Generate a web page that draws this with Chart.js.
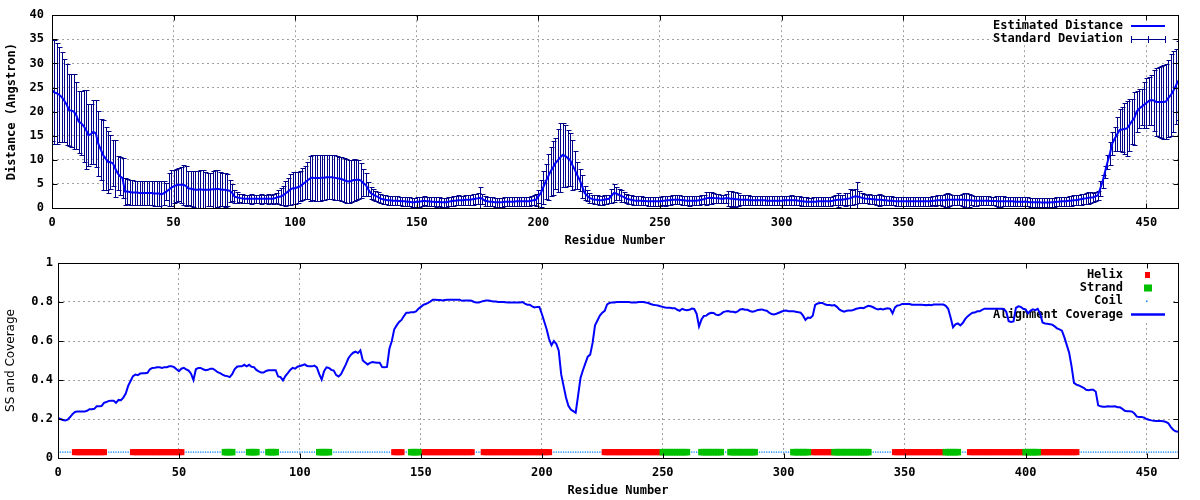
<!DOCTYPE html>
<html lang="en">
<head>
<meta charset="UTF-8">
<title>Estimated Distance and Alignment Coverage</title>
<script src="https://cdn.jsdelivr.net/npm/chart.js"></script>
<style>
    body { margin: 0; background: #ffffff; }
    .panel { position: absolute; left: 0; width: 1200px; height: 250px; }
    #top { top: 0; }
    #bottom { top: 250px; }
</style>
</head>
<body>
<div class="panel" id="top"><canvas id="distChart" width="1200" height="250"></canvas></div>
<div class="panel" id="bottom"><canvas id="covChart" width="1200" height="250"></canvas></div>

<script>
// tick labels
const xTicks = [0, 50, 100, 150, 200, 250, 300, 350, 400, 450];
const distTicks = [0, 5, 10, 15, 20, 25, 30, 35, 40];
const covTicks = [0, 0.2, 0.4, 0.6, 0.8, 1];

// estimated distance per residue (index = residue number)
const meanDistance = [
    24.4, 24.0, 23.8, 23.5, 23.0, 22.3, 21.5, 20.3, 20.2, 20.0,
    19.2, 17.9, 17.6, 17.0, 16.2, 15.1, 15.3, 15.8, 15.5, 13.4,
    12.2, 11.0, 10.3, 9.6, 9.5, 9.3, 8.2, 7.2, 6.6, 6.2,
    3.4, 3.4, 3.3, 3.2, 3.2, 3.2, 3.1, 3.1, 3.1, 3.1,
    3.1, 3.1, 3.0, 3.0, 3.0, 2.8, 3.1, 3.4, 3.8, 4.2,
    4.5, 4.7, 4.8, 4.8, 4.8, 4.6, 4.1, 4.0, 3.9, 3.8,
    3.8, 3.9, 3.8, 3.8, 3.8, 3.8, 3.9, 3.9, 4.0, 3.9,
    3.8, 3.8, 3.7, 3.6, 3.2, 2.4, 2.2, 2.1, 2.0, 1.9,
    1.9, 1.9, 1.9, 1.9, 1.9, 1.9, 1.9, 1.9, 1.9, 1.9,
    1.9, 1.9, 2.1, 2.3, 2.4, 2.6, 3.0, 3.4, 3.8, 4.1,
    4.1, 4.3, 4.5, 4.9, 5.3, 5.7, 6.1, 6.3, 6.2, 6.2,
    6.2, 6.3, 6.3, 6.4, 6.4, 6.4, 6.3, 6.2, 6.1, 6.0,
    5.8, 5.6, 5.5, 5.6, 5.8, 5.8, 5.9, 5.7, 5.2, 4.8,
    3.9, 3.1, 2.8, 2.5, 2.3, 2.0, 1.8, 1.7, 1.6, 1.6,
    1.5, 1.5, 1.5, 1.45, 1.4, 1.4, 1.3, 1.3, 1.2, 1.2,
    1.3, 1.3, 1.4, 1.5, 1.4, 1.4, 1.3, 1.3, 1.2, 1.3,
    1.2, 1.2, 1.2, 1.3, 1.4, 1.5, 1.5, 1.6, 1.6, 1.6,
    1.7, 1.7, 1.7, 1.8, 1.9, 2.0, 2.1, 1.9, 1.5, 1.4,
    1.3, 1.3, 1.2, 1.2, 1.2, 1.2, 1.3, 1.3, 1.3, 1.3,
    1.3, 1.4, 1.4, 1.4, 1.4, 1.4, 1.4, 1.5, 1.6, 1.7,
    2.4, 3.1, 4.3, 5.5, 6.5, 7.6, 8.4, 9.3, 9.9, 10.5,
    11.0, 10.8, 10.4, 10.0, 8.9, 7.9, 6.8, 5.8, 4.5, 3.1,
    2.6, 2.1, 1.9, 1.7, 1.7, 1.6, 1.6, 1.7, 1.8, 1.9,
    2.5, 3.1, 3.0, 2.75, 2.5, 2.3, 2.0, 1.8, 1.7, 1.6,
    1.5, 1.5, 1.5, 1.45, 1.45, 1.4, 1.4, 1.4, 1.4, 1.4,
    1.4, 1.5, 1.5, 1.6, 1.6, 1.7, 1.7, 1.7, 1.7, 1.6,
    1.6, 1.5, 1.5, 1.5, 1.5, 1.5, 1.6, 1.7, 1.8, 2.0,
    2.1, 2.1, 2.1, 2.0, 2.0, 1.9, 1.9, 2.0, 2.0, 1.9,
    1.9, 1.8, 1.8, 1.7, 1.7, 1.7, 1.7, 1.6, 1.6, 1.6,
    1.6, 1.6, 1.6, 1.6, 1.5, 1.5, 1.5, 1.5, 1.5, 1.5,
    1.5, 1.6, 1.6, 1.6, 1.6, 1.6, 1.6, 1.5, 1.4, 1.4,
    1.3, 1.3, 1.3, 1.3, 1.3, 1.4, 1.4, 1.4, 1.4, 1.4,
    1.4, 1.5, 1.6, 1.7, 1.7, 1.7, 1.8, 1.9, 2.0, 2.2,
    2.4, 2.4, 2.3, 2.1, 2.0, 1.9, 1.9, 1.8, 1.8, 1.7,
    1.7, 1.7, 1.6, 1.6, 1.5, 1.5, 1.45, 1.4, 1.4, 1.4,
    1.4, 1.4, 1.4, 1.4, 1.4, 1.4, 1.4, 1.4, 1.4, 1.4,
    1.4, 1.4, 1.5, 1.5, 1.6, 1.6, 1.6, 1.6, 1.7, 1.7,
    1.7, 1.7, 1.7, 1.7, 1.7, 1.7, 1.6, 1.6, 1.6, 1.5,
    1.5, 1.5, 1.5, 1.5, 1.5, 1.5, 1.45, 1.45, 1.45, 1.4,
    1.4, 1.4, 1.4, 1.4, 1.4, 1.4, 1.3, 1.3, 1.3, 1.3,
    1.3, 1.3, 1.2, 1.2, 1.2, 1.2, 1.2, 1.15, 1.15, 1.15,
    1.15, 1.2, 1.2, 1.3, 1.3, 1.4, 1.4, 1.4, 1.5, 1.5,
    1.6, 1.6, 1.7, 1.8, 1.9, 2.0, 2.1, 2.2, 2.2, 2.4,
    2.6, 4.0, 5.5, 7.5, 9.5, 11.3, 13.4, 14.4, 15.3, 16.2,
    16.3, 16.4, 16.5, 17.2, 18.0, 18.6, 20.0, 20.6, 21.0, 21.4,
    21.8, 22.2, 22.4, 22.3, 22.0, 22.0, 22.0, 22.0, 22.1, 22.8,
    23.4, 24.2, 25.2, 26.4
];

// standard deviation per residue
const stdDeviation = [
    10.6, 10.8, 10.5, 9.8, 9.3, 8.6, 8.4, 7.4, 7.5, 7.7,
    6.9, 6.4, 6.7, 7.4, 8.2, 6.4, 6.2, 6.7, 7.0, 6.7,
    6.3, 7.2, 6.5, 6.4, 5.6, 4.8, 5.9, 3.5, 3.9, 4.1,
    2.8, 2.6, 2.6, 2.6, 2.5, 2.5, 2.5, 2.5, 2.5, 2.5,
    2.5, 2.5, 2.6, 2.5, 2.5, 2.7, 2.4, 1.8, 3.4, 3.7,
    3.4, 3.4, 3.4, 3.8, 4.1, 4.2, 3.5, 3.6, 3.7, 3.8,
    3.8, 4.0, 4.1, 3.7, 3.4, 3.4, 3.8, 4.0, 3.8, 3.5,
    3.4, 3.5, 3.3, 2.3, 1.7, 1.4, 1.1, 0.9, 0.9, 0.9,
    0.9, 0.9, 1.0, 0.9, 0.9, 0.9, 1.0, 0.9, 0.9, 1.0,
    0.9, 1.0, 1.0, 1.4, 1.7, 2.0, 2.5, 2.8, 3.2, 3.3,
    3.3, 3.2, 3.1, 3.3, 3.4, 3.9, 4.6, 4.6, 4.7, 4.7,
    4.7, 4.6, 4.7, 4.6, 4.6, 4.6, 4.6, 4.5, 4.5, 4.5,
    4.6, 4.5, 4.5, 4.4, 4.3, 4.2, 4.1, 3.6, 2.8, 2.4,
    1.5, 1.3, 1.2, 1.1, 1.0, 0.9, 0.9, 0.9, 0.9, 0.9,
    0.9, 0.9, 0.9, 0.9, 0.9, 0.9, 0.9, 0.9, 0.9, 0.9,
    1.0, 1.0, 0.9, 0.9, 0.9, 0.9, 0.9, 0.9, 1.0, 0.9,
    0.9, 0.9, 0.9, 0.9, 0.9, 1.0, 0.9, 1.0, 0.9, 0.9,
    1.0, 1.0, 1.0, 1.1, 1.1, 1.2, 2.2, 1.1, 1.0, 0.9,
    0.9, 0.9, 0.9, 0.9, 0.9, 0.9, 0.9, 0.9, 0.9, 0.9,
    0.9, 0.9, 0.9, 0.9, 0.9, 0.9, 0.9, 0.9, 1.0, 1.2,
    1.4, 2.8, 3.4, 3.6, 4.8, 5.1, 5.6, 5.3, 6.5, 7.2,
    6.6, 6.4, 5.8, 5.5, 5.2, 4.0, 2.8, 2.2, 2.4, 1.5,
    1.2, 1.0, 0.9, 0.9, 0.9, 0.9, 0.9, 0.9, 0.9, 0.9,
    1.5, 1.8, 1.3, 1.1, 1.3, 1.1, 0.9, 0.9, 0.9, 0.9,
    0.9, 0.9, 0.9, 0.9, 0.9, 0.9, 0.9, 0.9, 0.9, 0.9,
    0.9, 0.9, 1.0, 0.9, 0.9, 0.9, 0.9, 0.9, 0.9, 0.9,
    0.9, 0.9, 1.0, 0.9, 0.9, 0.9, 0.9, 0.9, 1.0, 1.4,
    1.3, 1.2, 1.1, 0.9, 0.9, 0.9, 0.9, 1.0, 1.5, 1.7,
    1.5, 1.6, 1.4, 1.1, 1.1, 1.1, 1.0, 0.9, 0.9, 0.9,
    0.9, 0.9, 0.9, 0.9, 0.9, 0.9, 0.9, 0.9, 0.9, 0.9,
    0.9, 0.9, 0.9, 0.9, 1.0, 0.9, 0.9, 0.9, 0.9, 0.9,
    0.9, 0.8, 0.8, 0.9, 0.9, 0.9, 0.9, 0.9, 0.9, 0.9,
    0.9, 0.9, 1.0, 1.5, 1.0, 1.0, 1.4, 1.3, 1.9, 1.6,
    1.6, 2.9, 1.3, 1.1, 1.0, 0.9, 1.0, 1.0, 1.0, 1.0,
    1.2, 1.1, 0.9, 0.9, 0.9, 0.9, 0.9, 0.9, 0.9, 0.9,
    0.9, 0.9, 0.9, 0.9, 0.9, 0.9, 0.9, 0.9, 0.9, 0.9,
    0.9, 0.9, 0.9, 1.0, 1.0, 1.0, 1.2, 1.4, 1.5, 1.2,
    1.1, 1.0, 1.0, 1.1, 1.3, 1.5, 1.5, 1.3, 1.0, 1.0,
    1.0, 0.9, 0.9, 0.9, 0.9, 0.9, 0.9, 0.9, 1.0, 1.1,
    1.1, 1.0, 0.9, 0.9, 0.9, 0.9, 0.9, 0.9, 0.9, 0.9,
    0.9, 0.9, 0.9, 0.9, 0.9, 0.9, 0.9, 0.9, 0.9, 0.9,
    0.9, 0.9, 0.9, 0.9, 0.9, 0.9, 0.9, 0.9, 1.0, 1.0,
    1.0, 1.0, 1.0, 1.1, 1.1, 1.2, 1.2, 1.1, 1.0, 1.0,
    1.0, 1.5, 1.3, 1.2, 1.4, 2.4, 2.4, 2.5, 3.5, 4.4,
    4.6, 5.3, 5.8, 5.4, 4.7, 5.5, 4.3, 4.1, 3.7, 4.8,
    5.1, 4.9, 5.2, 6.4, 7.0, 7.3, 7.5, 7.7, 7.7, 8.0,
    8.5, 8.4, 7.8, 8.2
];

// alignment coverage per residue
const coverage = [
    0.205, 0.2, 0.195, 0.193, 0.197, 0.21, 0.225, 0.236, 0.238, 0.238,
    0.238, 0.238, 0.242, 0.25, 0.25, 0.252, 0.265, 0.265, 0.266, 0.283,
    0.287, 0.293, 0.294, 0.294, 0.283, 0.298, 0.296, 0.31, 0.33, 0.37,
    0.395, 0.42, 0.428, 0.425, 0.433, 0.435, 0.435, 0.437, 0.455, 0.462,
    0.463, 0.465, 0.465, 0.462, 0.466, 0.466, 0.47, 0.47, 0.466, 0.455,
    0.445, 0.458, 0.462, 0.455, 0.448, 0.432, 0.4, 0.455, 0.462, 0.462,
    0.455, 0.45, 0.452, 0.458, 0.458, 0.45, 0.44, 0.435, 0.428, 0.422,
    0.42, 0.415, 0.43, 0.455, 0.468, 0.47, 0.47, 0.478, 0.47, 0.478,
    0.468, 0.466, 0.452, 0.444, 0.438, 0.438, 0.446, 0.45, 0.45, 0.45,
    0.45, 0.418, 0.415, 0.398, 0.42, 0.435, 0.452, 0.462, 0.458, 0.468,
    0.472, 0.476, 0.48, 0.472, 0.47, 0.47, 0.474, 0.465, 0.43, 0.402,
    0.445, 0.465, 0.462, 0.452, 0.448, 0.425, 0.418, 0.43, 0.455, 0.48,
    0.51, 0.528, 0.54, 0.545, 0.538, 0.552, 0.5, 0.49, 0.48, 0.488,
    0.492, 0.49, 0.488, 0.488, 0.466, 0.465, 0.467, 0.56, 0.6, 0.66,
    0.68, 0.698, 0.708, 0.728, 0.745, 0.745, 0.748, 0.748, 0.752, 0.765,
    0.775, 0.785, 0.79, 0.795, 0.803, 0.812, 0.812, 0.81, 0.81, 0.808,
    0.81, 0.812, 0.812, 0.812, 0.812, 0.812, 0.812, 0.806, 0.808, 0.808,
    0.808, 0.806, 0.8, 0.797, 0.797, 0.802, 0.805, 0.808, 0.808, 0.805,
    0.803, 0.802, 0.8, 0.8, 0.8, 0.799, 0.798, 0.798, 0.797, 0.797,
    0.797, 0.797, 0.8, 0.792, 0.786, 0.786, 0.778, 0.772, 0.775, 0.775,
    0.74, 0.7, 0.66, 0.61, 0.578, 0.6, 0.585, 0.55, 0.43, 0.37,
    0.31, 0.268, 0.248, 0.24, 0.232, 0.32, 0.41, 0.45, 0.485, 0.52,
    0.53, 0.59, 0.68, 0.705, 0.73, 0.745, 0.755, 0.788, 0.795, 0.798,
    0.798, 0.8, 0.8, 0.8, 0.8, 0.8, 0.8, 0.798, 0.798, 0.797,
    0.8, 0.8, 0.8, 0.797, 0.795, 0.79, 0.786, 0.784, 0.782, 0.778,
    0.775, 0.772, 0.77, 0.77, 0.768, 0.768, 0.76, 0.755, 0.765, 0.76,
    0.758, 0.76, 0.766, 0.764, 0.74, 0.675, 0.71, 0.728, 0.73, 0.74,
    0.745, 0.744, 0.735, 0.732, 0.738, 0.748, 0.752, 0.754, 0.75, 0.75,
    0.747, 0.752, 0.762, 0.764, 0.76, 0.76, 0.754, 0.75, 0.752, 0.758,
    0.76, 0.762, 0.758, 0.755, 0.745, 0.738, 0.736, 0.74, 0.745, 0.75,
    0.755, 0.756, 0.753, 0.752, 0.752, 0.75, 0.748, 0.745, 0.73, 0.708,
    0.72, 0.718, 0.73, 0.785, 0.792, 0.795, 0.795, 0.788, 0.785, 0.785,
    0.782, 0.784, 0.775, 0.762, 0.755, 0.75, 0.755, 0.756, 0.756, 0.76,
    0.765, 0.768, 0.77, 0.768, 0.775, 0.78, 0.778, 0.773, 0.766, 0.762,
    0.765, 0.762, 0.765, 0.768, 0.765, 0.742, 0.772, 0.782, 0.784, 0.79,
    0.79, 0.79, 0.79, 0.786, 0.786, 0.786, 0.786, 0.786, 0.785, 0.784,
    0.786, 0.784, 0.787, 0.787, 0.787, 0.787, 0.787, 0.78, 0.765, 0.72,
    0.67, 0.685, 0.69, 0.68, 0.692, 0.712, 0.726, 0.736, 0.745, 0.746,
    0.752, 0.752, 0.76, 0.766, 0.766, 0.766, 0.766, 0.766, 0.766, 0.766,
    0.766, 0.764, 0.75, 0.702, 0.698, 0.7, 0.77, 0.778, 0.775, 0.765,
    0.762, 0.742, 0.755, 0.762, 0.758, 0.765, 0.74, 0.695, 0.69, 0.688,
    0.686, 0.684, 0.675, 0.665, 0.66, 0.653, 0.62, 0.58, 0.54, 0.47,
    0.385, 0.376, 0.372, 0.366, 0.36, 0.35, 0.348, 0.35, 0.35, 0.34,
    0.27, 0.265, 0.263, 0.263, 0.265, 0.264, 0.264, 0.265, 0.26, 0.26,
    0.252, 0.242, 0.24, 0.24, 0.238, 0.228, 0.212, 0.21, 0.21, 0.207,
    0.2, 0.196, 0.193, 0.191, 0.19, 0.19, 0.19, 0.188, 0.185, 0.178,
    0.16, 0.145, 0.137, 0.135
];

// secondary structure segments [first residue, last residue]
const helixSegments = [[7, 19], [31, 51], [139, 142], [151, 171], [176, 203], [226, 249], [312, 320], [346, 366], [377, 399], [406, 421]];
const strandSegments = [[69, 72], [79, 82], [87, 90], [108, 112], [146, 149], [250, 260], [266, 274], [278, 288], [304, 310], [321, 335], [367, 372], [400, 405]];

const lastResidue = 463;
const ssLevel = 0.03;

function inSegments(i, segs) {
    return segs.some(s => i >= s[0] && i <= s[1]);
}

const helixPts = [], strandPts = [], coilPts = [];
coverage.forEach((c, i) => {
    if (inSegments(i, helixSegments)) helixPts.push({ x: i, y: ssLevel });
    else if (inSegments(i, strandSegments)) strandPts.push({ x: i, y: ssLevel });
    else coilPts.push({ x: i, y: ssLevel });
});

Chart.defaults.font.family = "'DejaVu Sans Mono', monospace";
Chart.defaults.font.size = 12;
Chart.defaults.font.weight = 'bold';
Chart.defaults.color = '#000';

const monoFont = "bold 12px 'DejaVu Sans Mono', monospace";
const gridColor = '#a0a0a0';

// gnuplot style key, drawn before the data so curves pass over it
function keyPlugin(box, items) {
    return {
        id: 'key',
        beforeDatasetsDraw(chart) {
            const ctx = chart.ctx;
            ctx.save();
            ctx.fillStyle = '#fff';
            ctx.fillRect(box.x, box.y, box.w, box.h);
            ctx.font = monoFont;
            ctx.textAlign = 'right';
            ctx.textBaseline = 'middle';
            items.forEach(it => {
                ctx.fillStyle = '#000';
                ctx.fillText(it.label, box.textRight, it.y);
                it.sample(ctx, it.y);
            });
            ctx.restore();
        }
    };
}

// border and inward tick marks on all four sides
const framePlugin = {
    id: 'frame',
    afterDatasetsDraw(chart) {
        const { ctx, chartArea: a, scales: { x, y } } = chart;
        const l = Math.round(a.left) + 0.5, r = Math.round(a.right) + 0.5;
        const t = Math.round(a.top) + 0.5, b = Math.round(a.bottom) + 0.5;
        ctx.save();
        ctx.strokeStyle = '#000';
        ctx.lineWidth = 1;
        ctx.beginPath();
        x.ticks.forEach(tk => {
            const px = Math.round(x.getPixelForValue(tk.value)) + 0.5;
            ctx.moveTo(px, b); ctx.lineTo(px, b - 5);
            ctx.moveTo(px, t); ctx.lineTo(px, t + 5);
        });
        y.ticks.forEach(tk => {
            const py = Math.round(y.getPixelForValue(tk.value)) + 0.5;
            ctx.moveTo(l, py); ctx.lineTo(l + 5, py);
            ctx.moveTo(r, py); ctx.lineTo(r - 5, py);
        });
        ctx.stroke();
        ctx.strokeRect(l, t, r - l, b - t);
        ctx.restore();
    }
};

// standard deviation bars around the estimated distance
const errorBarPlugin = {
    id: 'errorBars',
    beforeDatasetsDraw(chart) {
        const { ctx, chartArea: a, scales: { x, y } } = chart;
        ctx.save();
        ctx.beginPath();
        ctx.rect(a.left, a.top, a.right - a.left, a.bottom - a.top);
        ctx.clip();
        ctx.strokeStyle = '#00008b';
        ctx.lineWidth = 1;
        ctx.beginPath();
        meanDistance.forEach((m, i) => {
            const px = Math.round(x.getPixelForValue(i)) + 0.5;
            const yHi = Math.round(y.getPixelForValue(m + stdDeviation[i])) + 0.5;
            const yLo = Math.round(y.getPixelForValue(m - stdDeviation[i])) + 0.5;
            ctx.moveTo(px, yLo); ctx.lineTo(px, yHi);
            ctx.moveTo(px - 2, yHi); ctx.lineTo(px + 3, yHi);
            ctx.moveTo(px - 2, yLo); ctx.lineTo(px + 3, yLo);
        });
        ctx.stroke();
        ctx.restore();
    }
};

function xAxis() {
    return {
        type: 'linear',
        min: 0,
        max: lastResidue,
        afterBuildTicks: s => { s.ticks = xTicks.map(v => ({ value: v })); },
        afterFit: s => { s.height = 42; },
        grid: { color: gridColor, drawTicks: false },
        border: { display: false, dash: [2, 3] },
        ticks: { padding: 8, maxRotation: 0, autoSkip: false, callback: v => String(v) },
        title: { display: true, text: 'Residue Number', padding: { top: 0, bottom: 2 } }
    };
}

function yAxis(tickList, max, width, pad, title, titleFont, titlePad) {
    return {
        type: 'linear',
        min: 0,
        max: max,
        afterBuildTicks: s => { s.ticks = tickList.map(v => ({ value: v })); },
        afterFit: s => { s.width = width; },
        grid: { color: gridColor, drawTicks: false },
        border: { display: false, dash: [2, 3] },
        ticks: { padding: pad, callback: v => String(v) },
        title: { display: true, text: title, font: titleFont, padding: { top: titlePad, bottom: 0 } }
    };
}

// top panel: estimated distance
new Chart(document.getElementById('distChart'), {
    type: 'line',
    data: {
        datasets: [{
            label: 'Estimated Distance',
            data: meanDistance.map((v, i) => ({ x: i, y: v })),
            borderColor: '#0000ff',
            borderWidth: 2,
            pointRadius: 0,
            tension: 0
        }]
    },
    options: {
        responsive: false,
        animation: false,
        devicePixelRatio: 1,
        events: [],
        layout: { padding: { top: 14, right: 22, left: 0, bottom: 0 } },
        plugins: { legend: { display: false }, tooltip: { enabled: false } },
        scales: {
            x: xAxis(),
            y: yAxis(distTicks, 40, 52, 8, 'Distance (Angstron)', { family: "'DejaVu Sans Mono', monospace", size: 12, weight: 'bold' }, 5)
        }
    },
    plugins: [
        keyPlugin({ x: 1000, y: 15, w: 170, h: 29, textRight: 1123 }, [
            { label: 'Estimated Distance', y: 26, sample: (ctx, y) => {
                ctx.strokeStyle = '#0000ff'; ctx.lineWidth = 2;
                ctx.beginPath(); ctx.moveTo(1131, y); ctx.lineTo(1165, y); ctx.stroke();
            } },
            { label: 'Standard Deviation', y: 39, sample: (ctx, y) => {
                ctx.strokeStyle = '#00008b'; ctx.lineWidth = 1;
                ctx.beginPath();
                ctx.moveTo(1131, y + 0.5); ctx.lineTo(1165, y + 0.5);
                [1131.5, 1148.5, 1165.5].forEach(px => { ctx.moveTo(px, y - 3); ctx.lineTo(px, y + 4); });
                ctx.stroke();
            } }
        ]),
        errorBarPlugin,
        framePlugin
    ]
});

// bottom panel: secondary structure and alignment coverage
new Chart(document.getElementById('covChart'), {
    type: 'line',
    data: {
        datasets: [
            {
                label: 'Alignment Coverage',
                data: coverage.map((v, i) => ({ x: i, y: v })),
                borderColor: '#0000ff',
                borderWidth: 2,
                pointRadius: 0,
                tension: 0,
                order: 0
            },
            {
                label: 'Strand',
                data: strandPts,
                showLine: false,
                pointStyle: 'rect',
                pointRadius: 4.6,
                pointBorderWidth: 0,
                pointBackgroundColor: '#00c000',
                order: 1
            },
            {
                label: 'Helix',
                data: helixPts,
                showLine: false,
                pointStyle: 'rect',
                pointRadius: 4.3,
                pointBorderWidth: 0,
                pointBackgroundColor: '#ff0000',
                order: 2
            },
            {
                label: 'Coil',
                data: coilPts,
                showLine: false,
                pointStyle: 'rect',
                pointRadius: 0.9,
                pointBorderWidth: 0,
                pointBackgroundColor: '#0080ff',
                order: 3
            }
        ]
    },
    options: {
        responsive: false,
        animation: false,
        devicePixelRatio: 1,
        events: [],
        layout: { padding: { top: 13, right: 22, left: 0, bottom: 0 } },
        plugins: { legend: { display: false }, tooltip: { enabled: false } },
        scales: {
            x: xAxis(),
            y: yAxis(covTicks, 1, 58, 5, 'SS and Coverage', { family: "'DejaVu Sans', sans-serif", size: 12, weight: 'normal' }, 4)
        }
    },
    plugins: [
        keyPlugin({ x: 998, y: 14, w: 172, h: 56, textRight: 1123 }, [
            { label: 'Helix', y: 25, sample: (ctx, y) => {
                ctx.fillStyle = '#ff0000'; ctx.fillRect(1145, y - 3, 5, 6);
            } },
            { label: 'Strand', y: 38, sample: (ctx, y) => {
                ctx.fillStyle = '#00c000'; ctx.fillRect(1144, y - 3.5, 8, 7);
            } },
            { label: 'Coil', y: 51, sample: (ctx, y) => {
                ctx.fillStyle = '#0080ff'; ctx.fillRect(1146, y - 0.5, 1.5, 1.5);
            } },
            { label: 'Alignment Coverage', y: 64.5, sample: (ctx, y) => {
                ctx.strokeStyle = '#0000ff'; ctx.lineWidth = 2.5;
                ctx.beginPath(); ctx.moveTo(1131, y); ctx.lineTo(1165, y); ctx.stroke();
            } }
        ]),
        framePlugin
    ]
});
</script>
</body>
</html>
